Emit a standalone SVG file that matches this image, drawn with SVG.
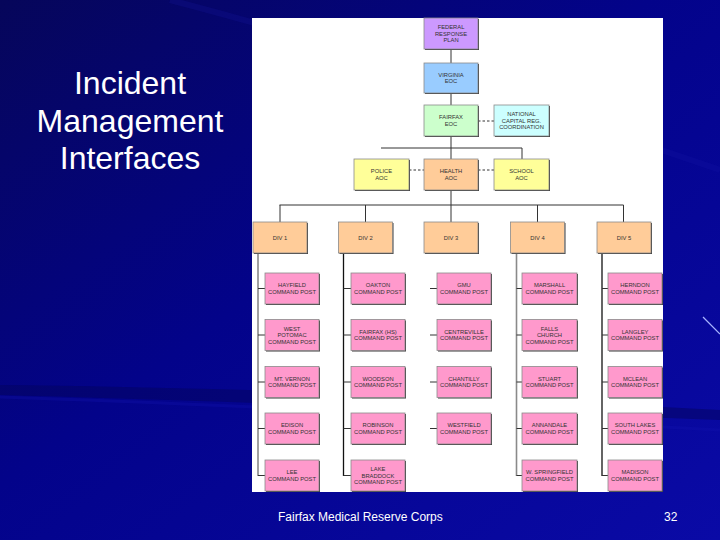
<svg xmlns="http://www.w3.org/2000/svg" width="720" height="540" viewBox="0 0 720 540">
<defs>
<linearGradient id="bg" x1="0" y1="0" x2="1" y2="1">
<stop offset="0" stop-color="#06065a"/>
<stop offset="0.45" stop-color="#03038a"/>
<stop offset="1" stop-color="#0a0aa6"/>
</linearGradient>
<style>
.title{font-family:"Liberation Sans",Arial,sans-serif;font-size:32px;fill:#ffffff;text-anchor:middle}
.foot{font-family:"Liberation Sans",Arial,sans-serif;font-size:12px;fill:#ffffff}
.lbl{font-family:"Liberation Sans",Arial,sans-serif;font-size:5.8px;fill:#333333;text-anchor:middle}
.box{stroke:#8a8a8a;stroke-width:0.8}
.sh{fill:#3a3a3a}
.purple{fill:#cc99ff}
.blue{fill:#99ccff}
.green{fill:#ccffcc}
.cyan{fill:#ccffff}
.yellow{fill:#ffff99}
.orange{fill:#ffcc99}
.pink{fill:#ff99cc}
.ln{stroke:#333333;stroke-width:1;fill:none}
.dash{stroke:#333333;stroke-width:1;stroke-dasharray:2.5 2;fill:none}
.tk{stroke:#111111;stroke-width:1.3;fill:none}
.tg{stroke:#8a8a8a;stroke-width:1.6;fill:none}
</style>
</defs>
<rect x="0" y="0" width="720" height="540" fill="url(#bg)"/>
<path d="M0 395 Q200 400 720 420 L720 410 Q300 388 0 385 Z" fill="#04045e" opacity="0.5"/>
<path d="M0 397 Q250 405 720 430" stroke="#1414b0" stroke-width="3" fill="none" opacity="0.3"/>
<path d="M170 0 Q400 60 720 170" stroke="#1818a8" stroke-width="6" fill="none" opacity="0.2"/>
<line x1="703" y1="317" x2="720" y2="334" stroke="#a8b4ff" stroke-width="1.2"/>

<text class="title" x="130" y="94">Incident</text>
<text class="title" x="130" y="132">Management</text>
<text class="title" x="130" y="169">Interfaces</text>

<rect x="252" y="18" width="411" height="474" fill="#ffffff"/>

<g id="connectors">
<line class="ln" x1="451" y1="49" x2="451" y2="63"/>
<line class="ln" x1="451" y1="93" x2="451" y2="105"/>
<line class="ln" x1="451" y1="136" x2="451" y2="159"/>
<line class="ln" x1="381" y1="148" x2="522" y2="148"/>
<line class="ln" x1="522" y1="148" x2="522" y2="159"/>
<line class="dash" x1="478" y1="121" x2="494" y2="121"/>
<line class="dash" x1="409" y1="170" x2="424" y2="170"/>
<line class="dash" x1="478" y1="170" x2="494" y2="170"/>
<line class="ln" x1="451" y1="190" x2="451" y2="222"/>
<line class="ln" x1="279.5" y1="205" x2="623.5" y2="205"/>
<line class="ln" x1="280" y1="205" x2="280" y2="222"/>
<line class="ln" x1="365.5" y1="205" x2="365.5" y2="222"/>
<line class="ln" x1="537.5" y1="205" x2="537.5" y2="222"/>
<line class="ln" x1="623.5" y1="205" x2="623.5" y2="222"/>
<line class="tg" x1="258" y1="253" x2="258" y2="476"/>
<line class="tk" x1="343.5" y1="253" x2="343.5" y2="476"/>
<line class="tg" x1="516.5" y1="253" x2="516.5" y2="476"/>
<line class="tk" x1="602" y1="253" x2="602" y2="476"/>
<g class="ln">
<line x1="258" y1="288.5" x2="265" y2="288.5"/><line x1="258" y1="335" x2="265" y2="335"/><line x1="258" y1="382" x2="265" y2="382"/><line x1="258" y1="428.5" x2="265" y2="428.5"/><line x1="258" y1="475.5" x2="265" y2="475.5"/>
<line x1="343.5" y1="288.5" x2="351" y2="288.5"/><line x1="343.5" y1="335" x2="351" y2="335"/><line x1="343.5" y1="382" x2="351" y2="382"/><line x1="343.5" y1="428.5" x2="351" y2="428.5"/><line x1="343.5" y1="475.5" x2="351" y2="475.5"/>
<line x1="430" y1="288.5" x2="437" y2="288.5"/><line x1="430" y1="335" x2="437" y2="335"/><line x1="430" y1="382" x2="437" y2="382"/><line x1="430" y1="428.5" x2="437" y2="428.5"/>
<line x1="516.5" y1="288.5" x2="522" y2="288.5"/><line x1="516.5" y1="335" x2="522" y2="335"/><line x1="516.5" y1="382" x2="522" y2="382"/><line x1="516.5" y1="428.5" x2="522" y2="428.5"/><line x1="516.5" y1="475.5" x2="522" y2="475.5"/>
<line x1="602" y1="288.5" x2="608" y2="288.5"/><line x1="602" y1="335" x2="608" y2="335"/><line x1="602" y1="382" x2="608" y2="382"/><line x1="602" y1="428.5" x2="608" y2="428.5"/><line x1="602" y1="475.5" x2="608" y2="475.5"/>
</g>
</g>

<g id="federal"><rect class="sh" x="425" y="19" width="54" height="31"/><rect class="box purple" x="424" y="18" width="54" height="31"/><text class="lbl" x="451" y="29.1">FEDERAL</text><text class="lbl" x="451" y="35.6">RESPONSE</text><text class="lbl" x="451" y="42.1">PLAN</text></g>
<g id="virginia"><rect class="sh" x="425" y="64" width="54" height="30"/><rect class="box blue" x="424" y="63" width="54" height="30"/><text class="lbl" x="451" y="76.6">VIRGINIA</text><text class="lbl" x="451" y="83.1">EOC</text></g>
<g id="fairfax-eoc"><rect class="sh" x="425" y="106" width="54" height="31"/><rect class="box green" x="424" y="105" width="54" height="31"/><text class="lbl" x="451" y="119.1">FAIRFAX</text><text class="lbl" x="451" y="125.6">EOC</text></g>
<g id="national"><rect class="sh" x="495" y="106" width="55" height="31"/><rect class="box cyan" x="494" y="105" width="55" height="31"/><text class="lbl" x="521.5" y="116.1">NATIONAL</text><text class="lbl" x="521.5" y="122.6">CAPITAL REG.</text><text class="lbl" x="521.5" y="129.1">COORDINATION</text></g>
<g id="police"><rect class="sh" x="355" y="160" width="55" height="31"/><rect class="box yellow" x="354" y="159" width="55" height="31"/><text class="lbl" x="381.5" y="173.1">POLICE</text><text class="lbl" x="381.5" y="179.6">AOC</text></g>
<g id="health"><rect class="sh" x="425" y="160" width="54" height="31"/><rect class="box orange" x="424" y="159" width="54" height="31"/><text class="lbl" x="451" y="173.1">HEALTH</text><text class="lbl" x="451" y="179.6">AOC</text></g>
<g id="school"><rect class="sh" x="495" y="160" width="55" height="31"/><rect class="box yellow" x="494" y="159" width="55" height="31"/><text class="lbl" x="521.5" y="173.1">SCHOOL</text><text class="lbl" x="521.5" y="179.6">AOC</text></g>

<g id="div1"><rect class="sh" x="254" y="223" width="54" height="31"/><rect class="box orange" x="253" y="222" width="54" height="31"/><text class="lbl" x="280" y="239.6">DIV 1</text></g>
<g id="div2"><rect class="sh" x="339.5" y="223" width="54" height="31"/><rect class="box orange" x="338.5" y="222" width="54" height="31"/><text class="lbl" x="365.5" y="239.6">DIV 2</text></g>
<g id="div3"><rect class="sh" x="425" y="223" width="54" height="31"/><rect class="box orange" x="424" y="222" width="54" height="31"/><text class="lbl" x="451" y="239.6">DIV 3</text></g>
<g id="div4"><rect class="sh" x="511.5" y="223" width="54" height="31"/><rect class="box orange" x="510.5" y="222" width="54" height="31"/><text class="lbl" x="537.5" y="239.6">DIV 4</text></g>
<g id="div5"><rect class="sh" x="598" y="223" width="54" height="31"/><rect class="box orange" x="597" y="222" width="54" height="31"/><text class="lbl" x="624" y="239.6">DIV 5</text></g>

<g id="hayfield"><rect class="sh" x="266" y="274" width="54" height="31"/><rect class="box pink" x="265" y="273" width="54" height="31"/><text class="lbl" x="292" y="287.1">HAYFIELD</text><text class="lbl" x="292" y="293.6">COMMAND POST</text></g>
<g id="west-potomac"><rect class="sh" x="266" y="320.5" width="54" height="31"/><rect class="box pink" x="265" y="319.5" width="54" height="31"/><text class="lbl" x="292" y="330.6">WEST</text><text class="lbl" x="292" y="337.1">POTOMAC</text><text class="lbl" x="292" y="343.6">COMMAND POST</text></g>
<g id="mt-vernon"><rect class="sh" x="266" y="367.5" width="54" height="31"/><rect class="box pink" x="265" y="366.5" width="54" height="31"/><text class="lbl" x="292" y="380.6">MT. VERNON</text><text class="lbl" x="292" y="387.1">COMMAND POST</text></g>
<g id="edison"><rect class="sh" x="266" y="414" width="54" height="31"/><rect class="box pink" x="265" y="413" width="54" height="31"/><text class="lbl" x="292" y="427.1">EDISON</text><text class="lbl" x="292" y="433.6">COMMAND POST</text></g>
<g id="lee"><rect class="sh" x="266" y="461" width="54" height="31"/><rect class="box pink" x="265" y="460" width="54" height="31"/><text class="lbl" x="292" y="474.1">LEE</text><text class="lbl" x="292" y="480.6">COMMAND POST</text></g>

<g id="oakton"><rect class="sh" x="352" y="274" width="54" height="31"/><rect class="box pink" x="351" y="273" width="54" height="31"/><text class="lbl" x="378" y="287.1">OAKTON</text><text class="lbl" x="378" y="293.6">COMMAND POST</text></g>
<g id="fairfax-hs"><rect class="sh" x="352" y="320.5" width="54" height="31"/><rect class="box pink" x="351" y="319.5" width="54" height="31"/><text class="lbl" x="378" y="333.6">FAIRFAX (HS)</text><text class="lbl" x="378" y="340.1">COMMAND POST</text></g>
<g id="woodson"><rect class="sh" x="352" y="367.5" width="54" height="31"/><rect class="box pink" x="351" y="366.5" width="54" height="31"/><text class="lbl" x="378" y="380.6">WOODSON</text><text class="lbl" x="378" y="387.1">COMMAND POST</text></g>
<g id="robinson"><rect class="sh" x="352" y="414" width="54" height="31"/><rect class="box pink" x="351" y="413" width="54" height="31"/><text class="lbl" x="378" y="427.1">ROBINSON</text><text class="lbl" x="378" y="433.6">COMMAND POST</text></g>
<g id="lake-braddock"><rect class="sh" x="352" y="461" width="54" height="31"/><rect class="box pink" x="351" y="460" width="54" height="31"/><text class="lbl" x="378" y="471.1">LAKE</text><text class="lbl" x="378" y="477.6">BRADDOCK</text><text class="lbl" x="378" y="484.1">COMMAND POST</text></g>

<g id="gmu"><rect class="sh" x="438" y="274" width="54" height="31"/><rect class="box pink" x="437" y="273" width="54" height="31"/><text class="lbl" x="464" y="287.1">GMU</text><text class="lbl" x="464" y="293.6">COMMAND POST</text></g>
<g id="centreville"><rect class="sh" x="438" y="320.5" width="54" height="31"/><rect class="box pink" x="437" y="319.5" width="54" height="31"/><text class="lbl" x="464" y="333.6">CENTREVILLE</text><text class="lbl" x="464" y="340.1">COMMAND POST</text></g>
<g id="chantilly"><rect class="sh" x="438" y="367.5" width="54" height="31"/><rect class="box pink" x="437" y="366.5" width="54" height="31"/><text class="lbl" x="464" y="380.6">CHANTILLY</text><text class="lbl" x="464" y="387.1">COMMAND POST</text></g>
<g id="westfield"><rect class="sh" x="438" y="414" width="54" height="31"/><rect class="box pink" x="437" y="413" width="54" height="31"/><text class="lbl" x="464" y="427.1">WESTFIELD</text><text class="lbl" x="464" y="433.6">COMMAND POST</text></g>

<g id="marshall"><rect class="sh" x="523" y="274" width="55" height="31"/><rect class="box pink" x="522" y="273" width="55" height="31"/><text class="lbl" x="549.5" y="287.1">MARSHALL</text><text class="lbl" x="549.5" y="293.6">COMMAND POST</text></g>
<g id="falls-church"><rect class="sh" x="523" y="320.5" width="55" height="31"/><rect class="box pink" x="522" y="319.5" width="55" height="31"/><text class="lbl" x="549.5" y="330.6">FALLS</text><text class="lbl" x="549.5" y="337.1">CHURCH</text><text class="lbl" x="549.5" y="343.6">COMMAND POST</text></g>
<g id="stuart"><rect class="sh" x="523" y="367.5" width="55" height="31"/><rect class="box pink" x="522" y="366.5" width="55" height="31"/><text class="lbl" x="549.5" y="380.6">STUART</text><text class="lbl" x="549.5" y="387.1">COMMAND POST</text></g>
<g id="annandale"><rect class="sh" x="523" y="414" width="55" height="31"/><rect class="box pink" x="522" y="413" width="55" height="31"/><text class="lbl" x="549.5" y="427.1">ANNANDALE</text><text class="lbl" x="549.5" y="433.6">COMMAND POST</text></g>
<g id="w-springfield"><rect class="sh" x="523" y="461" width="55" height="31"/><rect class="box pink" x="522" y="460" width="55" height="31"/><text class="lbl" x="549.5" y="474.1">W. SPRINGFIELD</text><text class="lbl" x="549.5" y="480.6">COMMAND POST</text></g>

<g id="herndon"><rect class="sh" x="609" y="274" width="54" height="31"/><rect class="box pink" x="608" y="273" width="54" height="31"/><text class="lbl" x="635" y="287.1">HERNDON</text><text class="lbl" x="635" y="293.6">COMMAND POST</text></g>
<g id="langley"><rect class="sh" x="609" y="320.5" width="54" height="31"/><rect class="box pink" x="608" y="319.5" width="54" height="31"/><text class="lbl" x="635" y="333.6">LANGLEY</text><text class="lbl" x="635" y="340.1">COMMAND POST</text></g>
<g id="mclean"><rect class="sh" x="609" y="367.5" width="54" height="31"/><rect class="box pink" x="608" y="366.5" width="54" height="31"/><text class="lbl" x="635" y="380.6">MCLEAN</text><text class="lbl" x="635" y="387.1">COMMAND POST</text></g>
<g id="south-lakes"><rect class="sh" x="609" y="414" width="54" height="31"/><rect class="box pink" x="608" y="413" width="54" height="31"/><text class="lbl" x="635" y="427.1">SOUTH LAKES</text><text class="lbl" x="635" y="433.6">COMMAND POST</text></g>
<g id="madison"><rect class="sh" x="609" y="461" width="54" height="31"/><rect class="box pink" x="608" y="460" width="54" height="31"/><text class="lbl" x="635" y="474.1">MADISON</text><text class="lbl" x="635" y="480.6">COMMAND POST</text></g>

<text class="foot" x="278" y="521">Fairfax Medical Reserve Corps</text>
<text class="foot" x="664" y="521">32</text>
</svg>
